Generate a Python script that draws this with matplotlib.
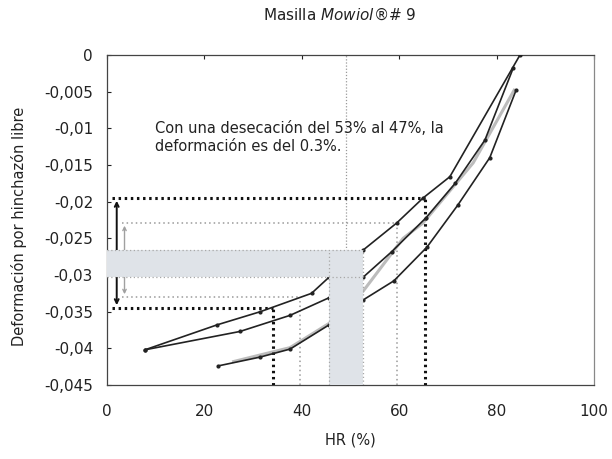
import matplotlib
matplotlib.use('Agg')
import matplotlib.pyplot as plt

plt.rcParams['font.family'] = ['DejaVu Sans']
plt.rcParams['mathtext.fontset'] = 'custom'
plt.rcParams['mathtext.rm'] = 'DejaVu Sans'
plt.rcParams['mathtext.it'] = 'DejaVu Sans:italic'

# curves (HR %, free-swelling strain)
hr_upper = [7.8, 22.6, 31.5, 42.0, 45.6, 52.6, 59.5, 64.9, 70.4, 84.8]
def_upper = [-0.0402, -0.0368, -0.0350, -0.0325, -0.0303, -0.0266, -0.0229, -0.0195, -0.0166, 0.0]
hr_mid = [7.8, 27.3, 37.6, 45.6, 52.6, 58.5, 65.5, 71.5, 77.6, 83.4]
def_mid = [-0.0402, -0.0377, -0.0355, -0.0331, -0.0303, -0.0268, -0.0222, -0.0175, -0.0116, -0.0018]
hr_low = [22.8, 31.4, 37.6, 45.6, 52.6, 58.9, 65.7, 72.0, 78.6, 84.0]
def_low = [-0.0424, -0.0412, -0.0401, -0.0368, -0.0334, -0.0308, -0.0262, -0.0205, -0.0140, -0.0048]
hr_grey = [26.0, 37.6, 45.6, 52.6, 60.8, 64.9, 75.2, 83.6]
def_grey = [-0.0418, -0.0399, -0.0366, -0.0322, -0.0250, -0.0229, -0.0147, -0.0048]

# guide readings
hr_black = [34.0, 65.3]
def_black = [-0.0345, -0.0195]
hr_light = [39.6, 59.5]
def_light = [-0.0330, -0.0229]
hr_band = [45.6, 52.6]
def_band = [-0.0303, -0.0266]
hr_grid = 49

xticks = [0, 20, 40, 60, 80, 100]
yticks = [0, -0.005, -0.01, -0.015, -0.02, -0.025, -0.03, -0.035, -0.04, -0.045]
ytick_labels = ['0', '-0,005', '-0,01', '-0,015', '-0,02', '-0,025', '-0,03',
                '-0,035', '-0,04', '-0,045']

ink = '#222222'
fig = plt.figure(figsize=(6.12, 4.59), dpi=100)
ax = fig.add_axes([0.1748, 0.1612, 0.7958, 0.7190])
ax.set_xlim(0, 100)
ax.set_ylim(-0.045, 0)

ax.axvline(hr_grid, color='#9a9a9a', lw=0.9, ls=(0, (1, 1.5)), zorder=1)

# grey highlight band
band = '#dfe3e8'
ax.fill_between([0, hr_band[1]], def_band[0], def_band[1], color=band, lw=0, zorder=5)
ax.fill_between(hr_band, -0.045, def_band[1], color=band, lw=0, zorder=5)
for yv in def_band:
    ax.plot([0, hr_band[1]], [yv, yv], color='#a8a8a8', lw=0.9, ls=(0, (1, 2)), zorder=6)
for xv in hr_band:
    ax.plot([xv, xv], [-0.045, def_band[1]], color='#a8a8a8', lw=0.9, ls=(0, (1, 2)), zorder=6)

# light dotted guides
ax.plot([3, hr_light[1]], [def_light[1]] * 2, color='#9a9a9a', lw=1.1, ls=(0, (1, 2)), zorder=3)
ax.plot([3, hr_light[0]], [def_light[0]] * 2, color='#9a9a9a', lw=1.1, ls=(0, (1, 2)), zorder=3)
for xv, yv in zip(hr_light, def_light):
    ax.plot([xv, xv], [-0.045, yv], color='#9a9a9a', lw=1.1, ls=(0, (1, 2)), zorder=3)
ax.annotate('', xy=(3.6, def_light[0]), xytext=(3.6, def_light[1]),
            arrowprops=dict(arrowstyle='<->', color='#a0a0a0', lw=1.0,
                            mutation_scale=6), zorder=3)

# heavy black dotted guides
ax.plot([1, hr_black[1]], [def_black[1]] * 2, color='#111111', lw=2.2, ls=(0, (0.8, 1.2)), zorder=4)
ax.plot([1, hr_black[0]], [def_black[0]] * 2, color='#111111', lw=2.2, ls=(0, (0.8, 1.2)), zorder=4)
for xv, yv in zip(hr_black, def_black):
    ax.plot([xv, xv], [-0.045, yv], color='#111111', lw=2.2, ls=(0, (0.8, 1.2)), zorder=4)
ax.annotate('', xy=(2.0, def_black[0]), xytext=(2.0, def_black[1]),
            arrowprops=dict(arrowstyle='<->', color='#111111', lw=1.4,
                            mutation_scale=7), zorder=4)

# curves
ax.plot(hr_grey, def_grey, color='#bcbcbc', lw=2.2, zorder=3)
for xs, ys in ((hr_upper, def_upper), (hr_mid, def_mid), (hr_low, def_low)):
    ax.plot(xs, ys, color=ink, lw=1.2, marker='o', ms=2.0, zorder=4)

ax.text(9.9, -0.0112, 'Con una desecación del 53% al 47%, la\ndeformación es del 0.3%.',
        fontsize=10.5, color=ink, va='center', ha='left', linespacing=1.25)

ax.set_xticks(xticks)
ax.set_yticks(yticks)
ax.set_yticklabels(ytick_labels)
ax.tick_params(axis='x', top=True, bottom=False, direction='in', length=3,
               pad=14, labelsize=11, colors=ink)
ax.tick_params(axis='y', direction='in', length=3, pad=10, labelsize=11, colors=ink)
for side in ('left', 'right', 'top', 'bottom'):
    ax.spines[side].set_color('#444444')
    ax.spines[side].set_linewidth(0.9)
ax.spines['right'].set_color('#888888')

ax.set_xlabel('HR (%)', fontsize=10.5, color=ink)
ax.xaxis.set_label_coords(0.5, -0.145)
ax.set_ylabel('Deformación por hinchazón libre', fontsize=10.5, color=ink)
ax.yaxis.set_label_coords(-0.165, 0.48)
fig.text(340 / 612, 1 - 15 / 459, r'Masilla $\it{Mowiol}$®# 9', fontsize=11,
         color=ink, ha='center', va='center')

fig.savefig('out.png', dpi=100)
